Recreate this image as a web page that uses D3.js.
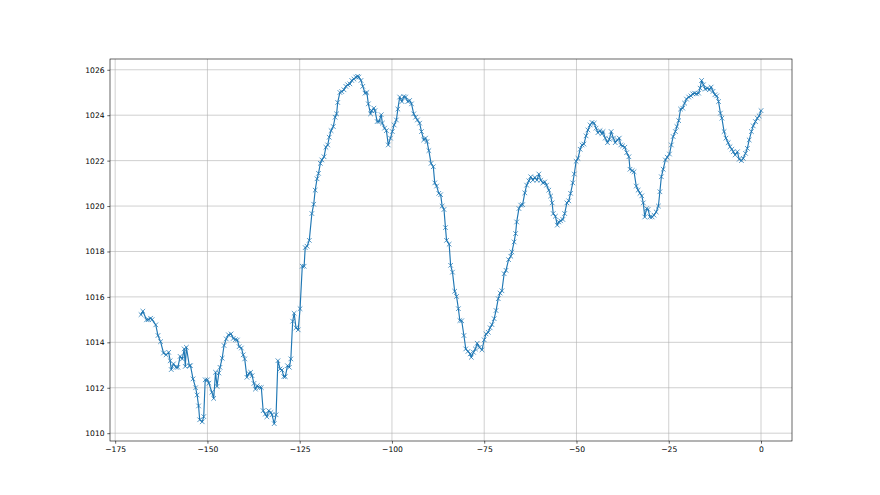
<!DOCTYPE html>
<html>
<head>
<meta charset="utf-8">
<script src="https://cdn.jsdelivr.net/npm/d3@7/dist/d3.min.js"></script>
<style>
  html, body { margin: 0; padding: 0; background: #ffffff; }
  svg { display: block; }
  text { font-family: "DejaVu Sans", sans-serif; }
</style>
</head>
<body>
<svg id="chart" width="880" height="495"></svg>
<script>
// Hours relative to now
const hours = [
  -168.0,-167.5,-166.5,-166.0,-165.4,-165.0,-164.0,-163.4,-162.7,-161.9,-161.2,-160.5,-160.1,-159.8,-159.2,-158.5,-158.0,
  -157.4,-156.8,-156.3,-156.0,-155.7,-154.9,-154.6,-153.9,-153.2,-152.8,-152.4,-152.1,-151.4,-151.0,-150.6,-150.0,
  -149.6,-148.8,-148.3,-147.8,-147.4,-146.9,-146.6,-146.0,-145.5,-144.9,-144.3,-143.6,-143.0,-142.4,-141.9,-141.4,
  -140.8,-140.3,-139.9,-139.3,-138.8,-138.3,-137.9,-137.4,-137.0,-136.5,-135.9,-135.4,-134.9,-134.3,-133.9,-133.4,
  -132.8,-132.5,-131.9,-131.4,-130.9,-130.3,-129.8,-129.3,-128.9,-128.3,-127.8,-127.4,-126.9,-126.5,-126.0,-125.4,
  -124.9,-124.3,-123.8,-123.5,-123.0,-122.4,-121.7,-121.2,-120.8,-120.3,-119.9,-119.4,-119.0,-118.4,-117.9,-117.4,
  -117.0,-116.5,-115.9,-115.4,-115.0,-114.7,-114.1,-113.6,-113.0,-112.5,-112.0,-111.4,-110.9,-110.3,-109.8,-109.3,
  -109.0,-108.4,-107.9,-107.3,-106.8,-106.4,-105.8,-105.5,-104.9,-104.6,-104.0,-103.5,-102.9,-102.6,-102.0,-101.5,
  -101.0,-100.4,-99.9,-99.4,-98.8,-98.4,-97.9,-97.3,-96.8,-96.3,-95.7,-95.2,-94.7,-94.1,-93.6,-93.1,-92.5,-92.0,
  -91.4,-90.9,-90.5,-90.0,-89.4,-88.8,-88.4,-87.9,-87.3,-86.8,-86.4,-85.9,-85.5,-85.2,-84.5,-84.1,-83.6,-83.0,
  -82.5,-82.0,-81.6,-81.1,-80.5,-80.0,-79.4,-78.8,-78.5,-77.9,-77.4,-76.9,-76.3,-75.6,-75.0,-74.5,-73.9,-73.4,
  -72.9,-72.3,-71.8,-71.2,-70.7,-70.2,-69.6,-69.1,-68.4,-67.8,-67.5,-66.9,-66.5,-66.2,-65.6,-65.1,-64.6,-64.0,
  -63.5,-62.9,-62.4,-61.8,-61.3,-60.7,-60.2,-59.7,-59.1,-58.6,-58.1,-57.5,-57.0,-56.6,-56.3,-55.7,-55.2,-54.8,
  -54.3,-53.7,-53.2,-52.6,-52.1,-51.6,-51.0,-50.6,-50.1,-49.6,-49.0,-48.5,-48.0,-47.4,-46.9,-46.3,-45.8,-45.2,
  -44.7,-44.2,-43.6,-43.1,-42.8,-42.2,-41.6,-41.1,-40.6,-40.0,-39.5,-38.9,-38.4,-38.0,-37.5,-36.9,-36.4,-35.8,
  -35.5,-34.9,-34.4,-33.8,-33.3,-32.8,-32.3,-31.9,-31.5,-31.0,-30.6,-30.1,-29.5,-29.0,-28.4,-27.8,-27.4,-27.0,
  -26.5,-25.9,-25.4,-24.8,-24.3,-23.8,-23.2,-22.8,-22.3,-21.8,-21.2,-20.7,-20.2,-19.6,-19.0,-18.5,-18.0,-17.5,
  -16.9,-16.5,-16.1,-15.6,-15.1,-14.5,-14.0,-13.5,-13.0,-12.5,-12.0,-11.5,-11.0,-10.6,-10.0,-9.5,-8.9,-8.4,
  -7.9,-7.5,-7.0,-6.4,-5.9,-5.3,-4.8,-4.2,-3.7,-3.2,-2.6,-2.1,-1.5,-1.0,-0.5,0.0
];

// Pressure (hPa)
const pressure = [
  1015.22,1015.37,1014.99,1015.00,1015.06,1015.00,1014.77,1014.30,1014.03,1013.53,1013.45,1013.56,1013.19,1012.80,1013.05,1012.90,1012.90,
  1013.38,1013.27,1013.71,1012.94,1013.78,1012.97,1012.97,1012.39,1012.00,1011.68,1011.20,1010.59,1010.50,1010.73,1012.35,1012.35,
  1012.20,1011.80,1011.53,1012.68,1012.06,1012.65,1012.90,1013.30,1013.86,1014.15,1014.33,1014.37,1014.17,1014.12,1014.10,1013.81,
  1013.75,1013.45,1013.27,1012.46,1012.63,1012.68,1012.53,1012.19,1011.94,1012.09,1012.01,1012.01,1010.99,1010.84,1010.72,1010.99,
  1010.91,1010.81,1010.42,1010.81,1013.19,1012.83,1012.78,1012.49,1012.49,1012.97,1012.90,1013.27,1014.93,1015.28,1014.64,1014.55,
  1015.48,1017.35,1017.35,1018.17,1018.23,1018.49,1019.67,1020.08,1020.70,1021.20,1021.44,1021.88,1022.03,1022.17,1022.59,1022.69,
  1023.03,1023.32,1023.50,1023.91,1024.06,1024.56,1025.00,1025.04,1025.12,1025.27,1025.34,1025.38,1025.53,1025.59,1025.68,1025.71,
  1025.68,1025.53,1025.27,1024.97,1025.00,1024.50,1024.06,1024.20,1024.31,1024.20,1023.72,1023.72,1024.02,1023.65,1023.43,1023.32,
  1022.69,1022.99,1023.28,1023.57,1023.79,1024.27,1024.80,1024.60,1024.82,1024.80,1024.60,1024.65,1024.50,1024.06,1023.91,1023.79,1023.65,1023.28,
  1022.91,1022.99,1022.84,1022.44,1021.88,1021.73,1021.02,1020.88,1020.56,1020.50,1020.00,1019.85,1019.05,1018.49,1018.32,1017.39,1017.09,1016.25,
  1016.02,1015.48,1014.96,1014.95,1014.30,1013.71,1013.60,1013.49,1013.34,1013.56,1013.71,1013.96,1013.78,1013.67,1014.11,1014.37,1014.44,1014.64,
  1014.78,1015.04,1015.40,1015.92,1016.17,1016.27,1017.02,1017.17,1017.64,1017.79,1017.98,1018.42,1018.79,1019.30,1019.89,1020.04,1020.06,1020.58,
  1020.92,1021.11,1021.29,1021.14,1021.26,1021.14,1021.41,1021.14,1021.02,1021.06,1020.92,1020.70,1020.44,1020.14,1019.67,1019.55,1019.16,1019.30,
  1019.35,1019.41,1019.67,1020.14,1020.23,1020.56,1021.02,1021.41,1021.97,1022.10,1022.50,1022.69,1022.73,1023.09,1023.35,1023.57,1023.68,1023.65,
  1023.43,1023.23,1023.32,1023.18,1023.28,1022.99,1022.79,1022.94,1023.28,1022.99,1022.79,1022.91,1022.99,1022.69,1022.65,1022.59,1022.35,1022.17,
  1021.62,1021.56,1021.51,1020.88,1020.70,1020.56,1020.45,1020.14,1019.52,1019.89,1019.85,1019.52,1019.52,1019.60,1019.74,1020.00,1020.63,1021.29,
  1021.62,1022.03,1022.15,1022.29,1022.69,1023.06,1023.28,1023.50,1023.76,1024.27,1024.31,1024.53,1024.71,1024.80,1024.85,1024.94,1024.97,1024.94,
  1024.97,1025.19,1025.53,1025.34,1025.15,1025.19,1025.12,1025.24,1025.05,1024.90,1024.85,1024.60,1024.09,1023.87,1023.28,1022.99,1022.79,1022.61,
  1022.50,1022.39,1022.25,1022.39,1022.06,1022.00,1022.10,1022.32,1022.54,1022.91,1023.28,1023.53,1023.72,1023.87,1023.97,1024.20
];

const xTickValues = [-175, -150, -125, -100, -75, -50, -25, 0];
const yTickValues = [1010, 1012, 1014, 1016, 1018, 1020, 1022, 1024, 1026];

const W = 880, H = 495;
const margin = { left: 110, right: 88, top: 59, bottom: 54 };
const pw = W - margin.left - margin.right;
const ph = H - margin.top - margin.bottom;

const data = hours.map((h, i) => ({ x: h, y: pressure[i] }));

const xExt = d3.extent(hours), yExt = d3.extent(pressure);
const xPad = (xExt[1] - xExt[0]) * 0.05, yPad = (yExt[1] - yExt[0]) * 0.05;

const x = d3.scaleLinear().domain([xExt[0] - xPad, xExt[1] + xPad]).range([0, pw]);
const y = d3.scaleLinear().domain([yExt[0] - yPad, yExt[1] + yPad]).range([ph, 0]);

const svg = d3.select("#chart");
svg.append("rect").attr("width", W).attr("height", H).attr("fill", "#ffffff");
const g = svg.append("g").attr("transform", `translate(${margin.left},${margin.top})`);

const fmt = d => (d < 0 ? "\u2212" + Math.abs(d) : String(d));

// grid
g.append("g").selectAll("line").data(xTickValues).join("line")
  .attr("x1", d => x(d)).attr("x2", d => x(d)).attr("y1", 0).attr("y2", ph)
  .attr("stroke", "#b0b0b0").attr("stroke-width", 0.6);
g.append("g").selectAll("line").data(yTickValues).join("line")
  .attr("x1", 0).attr("x2", pw).attr("y1", d => y(d)).attr("y2", d => y(d))
  .attr("stroke", "#b0b0b0").attr("stroke-width", 0.6);

// axes
const xAxis = d3.axisBottom(x).tickValues(xTickValues).tickFormat(fmt).tickSize(2.7).tickPadding(2.7);
const yAxis = d3.axisLeft(y).tickValues(yTickValues).tickFormat(fmt).tickSize(2.7).tickPadding(2.7);

const gx = g.append("g").attr("transform", `translate(0,${ph})`).call(xAxis);
const gy = g.append("g").call(yAxis);
[gx, gy].forEach(a => {
  a.select(".domain").remove();
  a.selectAll(".tick line").attr("stroke", "#000").attr("stroke-width", 0.6);
  a.selectAll(".tick text").attr("fill", "#000").style("font-size", "7.6px")
    .style("font-family", "'DejaVu Sans', sans-serif");
});

// line
const line = d3.line().x(d => x(d.x)).y(d => y(d.y));
g.append("path").datum(data).attr("d", line)
  .attr("fill", "none").attr("stroke", "#1f77b4").attr("stroke-width", 1.15)
  .attr("stroke-linejoin", "round").attr("stroke-linecap", "square");

// x markers
const r = 2.3;
g.append("g").selectAll("path").data(data).join("path")
  .attr("d", d => {
    const cx = x(d.x), cy = y(d.y);
    return `M${cx - r},${cy - r}L${cx + r},${cy + r}M${cx - r},${cy + r}L${cx + r},${cy - r}`;
  })
  .attr("fill", "none").attr("stroke", "#1f77b4").attr("stroke-width", 0.76);

// frame
g.append("rect").attr("x", 0).attr("y", 0).attr("width", pw).attr("height", ph)
  .attr("fill", "none").attr("stroke", "#000").attr("stroke-width", 0.6);
</script>
</body>
</html>
